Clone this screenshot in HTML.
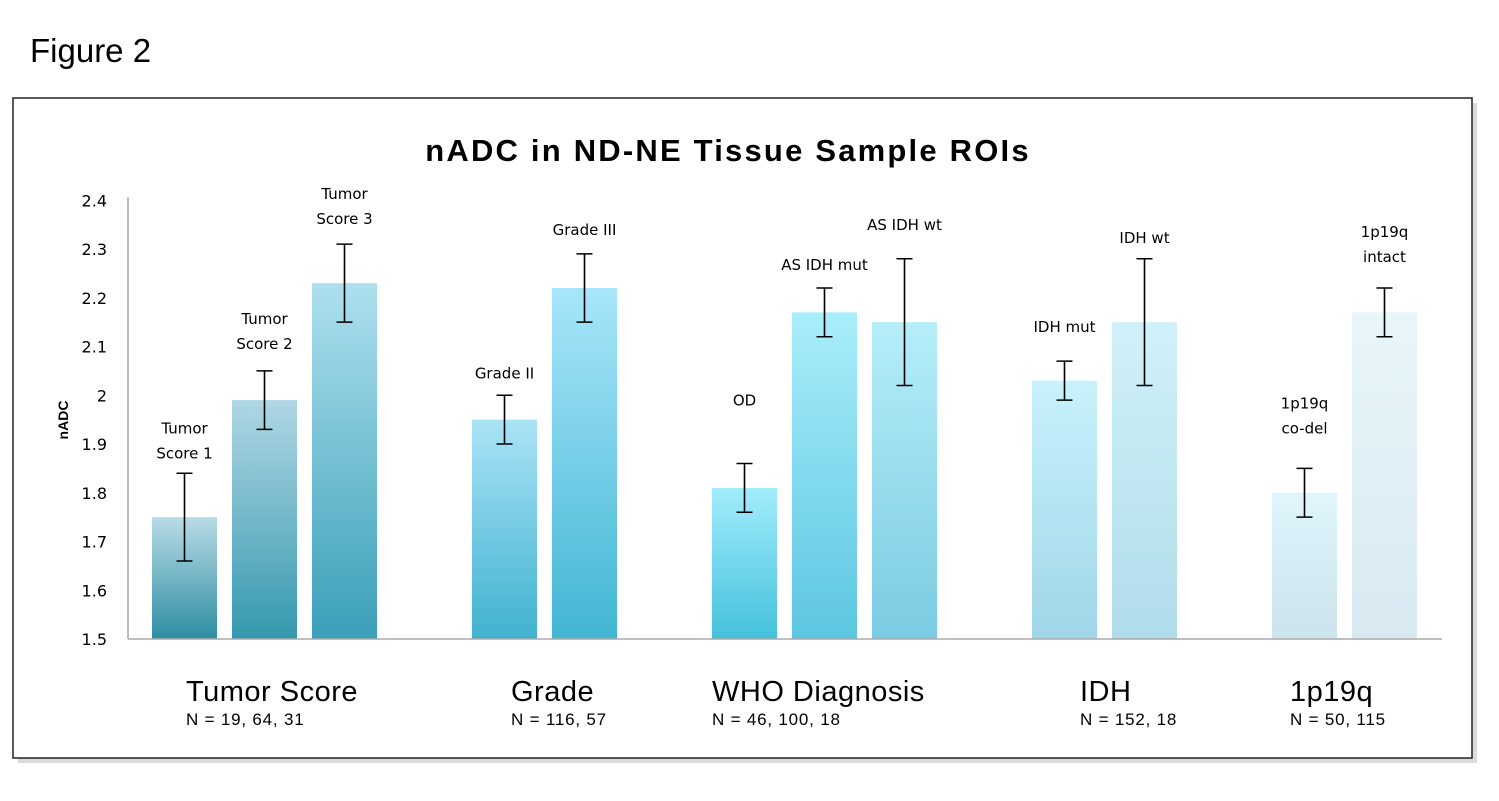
<!DOCTYPE html>
<html><head><meta charset="utf-8"><style>
body{margin:0;background:#fff;}
svg{display:block;font-family:"Liberation Sans",sans-serif;}
</style></head><body>
<svg id="chart" width="1499" height="801" viewBox="0 0 1499 801">
<defs id="defs"></defs>
<text x="30" y="62" font-size="33" fill="#000">Figure 2</text>
<rect x="18" y="103" width="1459" height="660" fill="#999" opacity="0.35"/>
<rect x="13" y="98" width="1459" height="660" fill="#fff" stroke="#222" stroke-width="1.5"/>
<text x="728" y="161" font-size="31" font-weight="bold" letter-spacing="2.2" text-anchor="middle">nADC in ND-NE Tissue Sample ROIs</text>
<text transform="translate(68,420) rotate(-90)" font-size="14" font-weight="bold" text-anchor="middle">nADC</text>
<g id="yticks"></g>
<line x1="128" y1="197" x2="128" y2="639" stroke="#aaa" stroke-width="1.5"/>
<g id="bars"></g>
<line x1="128" y1="639" x2="1442" y2="639" stroke="#aaa" stroke-width="1.5"/>
<g id="groups"></g>
</svg>
<script>
const categories = ["Tumor Score 1","Tumor Score 2","Tumor Score 3","Grade II","Grade III","OD","AS IDH mut","AS IDH  wt","IDH mut","IDH wt","1p19q co-del","1p19q intact"];
const values = [1.75,1.99,2.23,1.95,2.22,1.81,2.17,2.15,2.03,2.15,1.80,2.17];
const errors = [0.09,0.06,0.08,0.05,0.07,0.05,0.05,0.13,0.04,0.13,0.05,0.05];
const yTicks = [1.5,1.6,1.7,1.8,1.9,2,2.1,2.2,2.3,2.4];
const groupNames = ["Tumor Score","Grade","WHO Diagnosis","IDH","1p19q"];
const groupN = ["N = 19, 64, 31","N = 116, 57","N = 46, 100, 18","N = 152, 18","N = 50, 115"];
const barLabels = [["Tumor","Score 1"],["Tumor","Score 2"],["Tumor","Score 3"],["Grade II"],["Grade III"],["OD"],["AS IDH mut"],["AS IDH  wt"],["IDH mut"],["IDH wt"],["1p19q","co-del"],["1p19q","intact"]];

const NS="http://www.w3.org/2000/svg";
const slots=[0,1,2,4,5,7,8,9,11,12,14,15];
const labelGap=[15,22,20,17,19,58,18,29,29,16,35,26];
const tops=["#b9dce7","#b0d7e5","#aee0ef","#abe3f6","#a8e6fa","#a2ecfc","#aaeefb","#b6eef9","#c8f2fc","#d0f1f9","#e0f6fc","#e8f6fa"];
const bots=["#2e8da2","#3598ae","#3a9fb7","#40b2cf","#42b6d3","#45c1dc","#5cc6e0","#7acbe2","#a0d6e8","#b0dcea","#cce3ed","#d8e9f1"];
const groupTextX=[186,511,712,1080,1290];
function y(v){return 639-(v-1.5)*487.5;}
function x(slot){return 152+slot*80;}
const bw=65;
const yt=document.getElementById('yticks');
yTicks.forEach(t=>{const e=document.createElementNS(NS,'text');e.setAttribute('x',107);e.setAttribute('y',y(t)+6);e.setAttribute('font-size',16);e.setAttribute('font-family','DejaVu Sans, sans-serif');e.setAttribute('text-anchor','end');e.textContent=String(t);


yt.appendChild(e);});
const defs=document.getElementById('defs'),bg=document.getElementById('bars');
values.forEach((v,i)=>{
 const g=document.createElementNS(NS,'linearGradient');g.id='g'+i;g.setAttribute('x1',0);g.setAttribute('y1',0);g.setAttribute('x2',0);g.setAttribute('y2',1);
 g.innerHTML='<stop offset="0" stop-color="'+tops[i]+'"/><stop offset="1" stop-color="'+bots[i]+'"/>';defs.appendChild(g);
 const bx=x(slots[i]),cx=bx+bw/2;
 const r=document.createElementNS(NS,'rect');r.setAttribute('x',bx);r.setAttribute('y',y(v));r.setAttribute('width',bw);r.setAttribute('height',639-y(v));r.setAttribute('fill','url(#g'+i+')');
 
 
 bg.appendChild(r);
 const hi=y(v+errors[i]),lo=y(v-errors[i]);
 const p=document.createElementNS(NS,'path');p.setAttribute('d','M'+cx+' '+hi+'V'+lo+'M'+(cx-8)+' '+hi+'H'+(cx+8)+'M'+(cx-8)+' '+lo+'H'+(cx+8));p.setAttribute('stroke','#000');p.setAttribute('stroke-width',1.6);p.setAttribute('fill','none');
 
 
 bg.appendChild(p);
 const lines=barLabels[i];const base=hi-labelGap[i]-(lines.length-1)*25;
 lines.forEach((ln,k)=>{const t=document.createElementNS(NS,'text');t.setAttribute('x',cx);t.setAttribute('y',base+k*25);t.setAttribute('font-size',15);t.setAttribute('font-family','DejaVu Sans, sans-serif');t.setAttribute('text-anchor','middle');t.setAttribute('xml:space','preserve');t.textContent=ln;
 
 
 bg.appendChild(t);});
});
const gg=document.getElementById('groups');
groupNames.forEach((n,i)=>{
 const t=document.createElementNS(NS,'text');t.setAttribute('x',groupTextX[i]);t.setAttribute('y',701);t.setAttribute('font-size',29);t.setAttribute('letter-spacing',0.5);t.textContent=n;
 
 
 gg.appendChild(t);
 const s=document.createElementNS(NS,'text');s.setAttribute('x',groupTextX[i]);s.setAttribute('y',725);s.setAttribute('font-size',17);s.setAttribute('letter-spacing',0.8);s.textContent=groupN[i];
 
 
 gg.appendChild(s);
});
</script>
</body></html>
